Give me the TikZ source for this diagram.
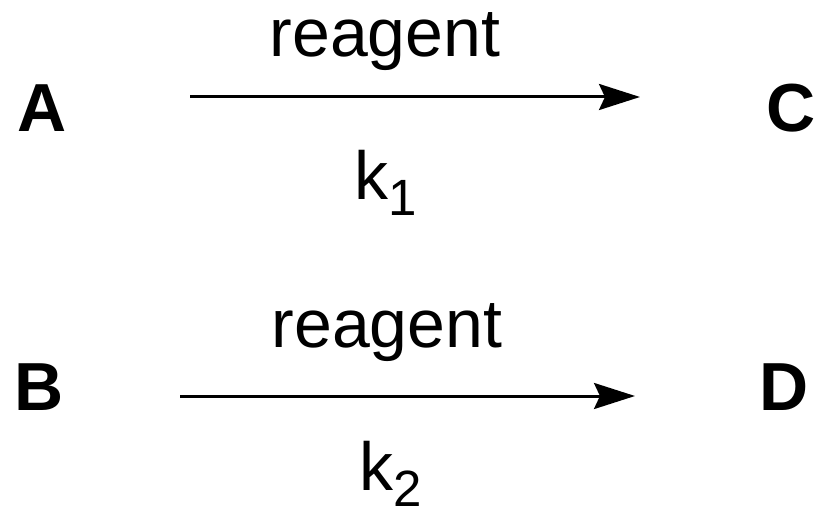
\documentclass[tikz,border=0pt]{standalone}
\usepackage{fontspec}
\setmainfont{Liberation Sans}
\usetikzlibrary{arrows.meta}
\newcommand{\subidx}[1]{\raisebox{-16pt}{\fontsize{51}{60}\selectfont #1}}
\begin{document}
\begin{tikzpicture}[x=1pt,y=1pt,
  lbl/.style={inner sep=0pt, anchor=base, font=\fontsize{68}{80}\selectfont},
  species/.style={inner sep=0pt, anchor=base, font=\fontsize{68}{80}\selectfont\bfseries},
  rxn/.style={line width=3pt, -{Stealth[length=41pt,width=26pt,inset=6pt]}}]
\useasboundingbox (0,0) rectangle (819,509);
% row 1
\node[species] (A) at (42,377) {A};
\node[species] (C) at (791,377) {C};
\node[lbl] (r1) at (385,452) {reagent};
\node[lbl] (k1) at (386,309) {k\subidx{1}};
\coordinate (a1) at (190,412);
\coordinate (c1) at (640,412);
\draw[rxn] (a1) -- (c1);
% row 2
\node[species] (B) at (39,99) {B};
\node[species] (D) at (784,99) {D};
\node[lbl] (r2) at (387,161) {reagent};
\node[lbl] (k2) at (391,19) {k\subidx{2}};
\coordinate (b1) at (180,113);
\coordinate (d1) at (635,113);
\draw[rxn] (b1) -- (d1);
\end{tikzpicture}
\end{document}
